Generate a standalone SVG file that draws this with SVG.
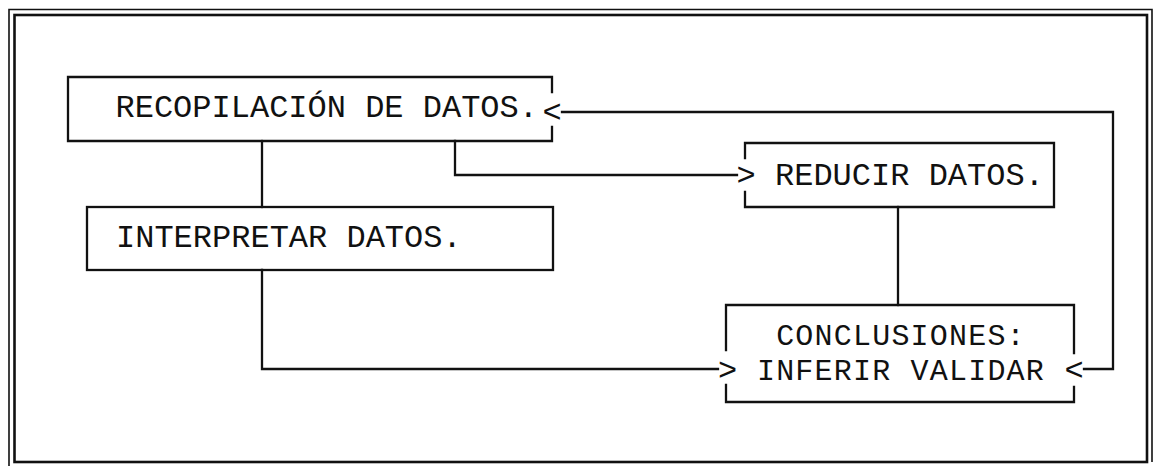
<svg xmlns="http://www.w3.org/2000/svg" width="1155" height="466" viewBox="0 0 1155 466">
<style>
.ln{fill:none;stroke:#111;stroke-width:2.3;stroke-linecap:square}
.fr{fill:none;stroke:#111}
.t{font-family:"Liberation Mono","DejaVu Sans Mono",monospace;font-size:32px;fill:#111}
.c{font-family:"Liberation Mono","DejaVu Sans Mono",monospace;font-size:30px;letter-spacing:1.2px;fill:#111;text-anchor:middle}
.a{font-family:"Liberation Mono","DejaVu Sans Mono",monospace;font-size:32px;fill:#111;text-anchor:middle}
</style>
<rect width="1155" height="466" fill="#fff"/>
<g id="frame">
<path class="fr" stroke-width="1.6" d="M9,466 V9.5 H1152 V462"/>
<rect class="fr" stroke-width="2.6" x="14.5" y="15" width="1132.5" height="447"/>
</g>
<g id="recopilacion">
<path class="ln" d="M552,92 V77 H68 V141 H552 V127"/>
<text class="t" x="115.5" y="117">RECOPILACIÓN DE DATOS.</text>
</g>
<g id="reducir">
<path class="ln" d="M745,158 V143 H1054 V207 H745 V192"/>
<text class="t" x="775" y="185">REDUCIR DATOS.</text>
</g>
<g id="interpretar">
<rect class="ln" x="87" y="207" width="466" height="63"/>
<text class="t" x="116" y="247">INTERPRETAR DATOS.</text>
</g>
<g id="conclusiones">
<path class="ln" d="M726,350 V305 H1074 V353"/>
<path class="ln" d="M726,385 V402 H1074 V387"/>
<text class="c" x="901" y="345">CONCLUSIONES:</text>
<text class="c" x="901" y="380">INFERIR VALIDAR</text>
</g>
<g id="connectors">
<path class="ln" d="M262,141 V207"/>
<path class="ln" d="M455,141 V175 H737"/>
<text class="a" x="746" y="185">&gt;</text>
<path class="ln" d="M898,207 V305"/>
<path class="ln" d="M262,270 V369 H718"/>
<text class="a" x="727.5" y="380">&gt;</text>
<path class="ln" d="M1084,369 H1113 V112 H562"/>
<text class="a" x="1074" y="380">&lt;</text>
<text class="a" x="552" y="122">&lt;</text>
</g>
</svg>
